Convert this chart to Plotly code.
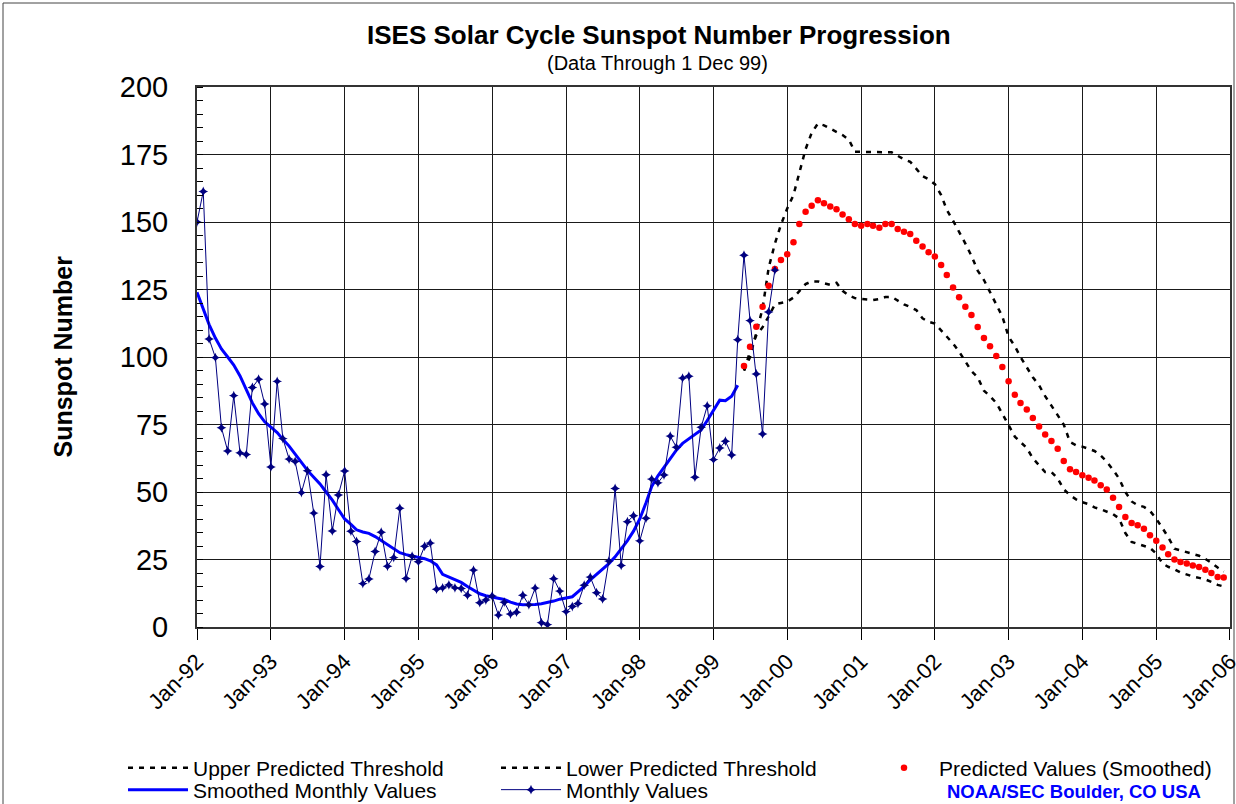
import pandas as pd
import plotly.graph_objects as go

# ---------------- data ----------------
months = pd.date_range("1992-01-01", "2005-12-01", freq="MS")

monthly_values = [
    150.0, 161.3, 106.7, 99.8, 73.8, 65.2, 85.7, 64.5, 63.9, 88.7, 91.8, 82.6,
    59.3, 91.0, 69.8, 62.2, 61.3, 49.8, 57.9, 42.2, 22.4, 56.4, 35.6, 48.9,
    57.8, 35.5, 31.7, 16.1, 17.8, 28.0, 35.1, 22.5, 25.7, 44.0, 18.0, 26.2,
    24.2, 29.9, 31.1, 14.0, 14.5, 15.6, 14.5, 14.3, 11.8, 21.1, 9.0, 10.0,
    11.5, 4.4, 9.2, 4.8, 5.5, 11.8, 8.2, 14.4, 1.6, 0.9, 17.9, 13.3,
    5.7, 7.6, 8.7, 15.5, 18.5, 12.7, 10.4, 24.4, 51.3, 22.8, 39.0, 41.2,
    31.9, 40.3, 54.8, 53.4, 56.3, 70.7, 66.6, 92.2, 92.9, 55.5, 74.0, 81.9,
    62.0, 66.3, 68.8, 63.7, 106.4, 137.7, 113.5, 93.7, 71.5, 116.7, 132.2,
]

smoothed_values = [
    124, 118, 112, 107, 103, 100, 97, 93, 88, 83, 79, 76,
    74, 72, 69.5, 67, 64, 61, 58, 55.5, 53, 50, 47, 43.5,
    40, 38, 36, 35.2, 34.7, 33.5, 32, 30.5, 29, 27.5, 26.8, 26.3,
    25.8, 25.3, 24.5, 23, 19.5, 18.5, 17.8, 16.5, 15, 13.8, 12.3, 11.6,
    11.2, 10.7, 10.2, 9.2, 8.5, 8.2, 8.2, 8.3, 8.6, 9.0, 9.6, 10.3,
    10.8, 11.2, 13, 15, 17.5, 19.5, 21.5, 23.5, 26, 29, 32, 35.5,
    40, 46, 52, 56, 59, 62.5, 65.5, 68, 69.8, 71.2, 73, 76.5,
    80.5, 84, 83.8, 85.5, 89.5,
]

pred_start = 89  # Jun-99

upper_threshold = [
    95, 100, 109, 118, 133, 142, 149, 155, 160, 168,
    177, 183, 186.5, 185.8, 184.6, 183.4, 182.2, 180.5, 176, 176,
    176, 176, 176, 176, 175.8, 174.5, 173.2, 172.3, 169.5, 167,
    165.8, 164, 160, 154.5, 150.5, 146.5, 142, 137.5, 132, 128.5,
    124, 119.5, 115, 107.5, 104, 100, 96, 92.5, 89.5, 85.5,
    82, 78.5, 75, 68.5, 67.3, 66.8, 66.1, 65.2, 63.5, 61.2,
    58.2, 55, 50, 46.5, 45.1, 44.5, 43, 40.1, 36.6, 33.3,
    29, 28.4, 27.8, 27.2, 26.4, 25.2, 23.8, 22, 20.5,
]

lower_threshold = [
    95, 102, 108, 111, 115, 119.5, 120, 120.5, 122, 124.5,
    127, 128, 128, 127.3, 126.7, 127.5, 124.5, 122.8, 121.8, 121.5,
    121.3, 121.1, 121.5, 122.2, 122.3, 121, 119.5, 118.5, 117.4, 114.3,
    113, 112.4, 109.8, 107.5, 105, 102, 98.5, 94.8, 92.5, 87.5,
    85.5, 83, 79, 75, 70.5, 68.5, 66.3, 62.5, 60, 57.4,
    57.4, 55, 51, 48.8, 47.3, 46.2, 45.5, 44.3, 43.6, 42.6,
    41.8, 40.2, 34.8, 31.5, 30.8, 30.2, 29.3, 27.2, 23.5, 22.3,
    21.4, 20.2, 19.3, 18.7, 18.2, 17.6, 16.7, 15.6, 15.0,
]

predicted_smoothed = [
    96.7, 103.8, 111.2, 118.6, 126.4, 132.6, 135.9, 138.1, 142.5, 149.3,
    153.8, 156.0, 158.1, 156.9, 155.7, 154.7, 152.8, 151.0, 149.3, 148.6,
    149.3, 148.6, 147.9, 149.3, 149.3, 147.4, 146.4, 145.6, 143.1, 140.9,
    138.8, 137.2, 134.1, 130.4, 125.7, 122.1, 118.6, 115.6, 111.1, 107.0,
    104.0, 100.4, 96.3, 91.0, 86.0, 83.0, 80.6, 77.4, 74.3, 71.3,
    68.9, 66.0, 61.5, 58.4, 57.4, 56.2, 55.3, 54.3, 52.5, 50.9,
    47.9, 44.4, 40.7, 38.5, 37.7, 36.4, 34.0, 31.9, 29.4, 26.9,
    25.0, 24.1, 23.5, 22.8, 22.2, 21.2, 20.0, 18.5, 18.3,
]

year_ticks = pd.date_range("1992-01-01", "2006-01-01", freq="YS")
tick_labels = [d.strftime("%b-%y") for d in year_ticks]
y_ticks = [0, 25, 50, 75, 100, 125, 150, 175, 200]

title_text = "ISES Solar Cycle Sunspot Number Progression"
subtitle_text = "(Data Through 1 Dec 99)"
credit_text = "NOAA/SEC Boulder, CO USA"

# ---------------- figure ----------------
FONT = "Liberation Sans, Arial, sans-serif"
W, H = 1236, 804
ML, MR, MT, MB = 197, 6, 87, 177
PW, PH = W - ML - MR, H - MT - MB


def px_x(px):
    return (px - ML) / PW


def px_y(py):
    return 1 - (py - MT) / PH


x_monthly = months[:len(monthly_values)]
x_smoothed = months[:len(smoothed_values)]
x_pred = months[pred_start:pred_start + len(predicted_smoothed)]

fig = go.Figure()

fig.add_trace(go.Scatter(
    x=x_pred, y=upper_threshold, mode="lines", name="Upper Predicted Threshold",
    line=dict(color="black", width=2.5, dash="5px,6px"), legend="legend"))
fig.add_trace(go.Scatter(
    x=x_pred, y=lower_threshold, mode="lines", name="Lower Predicted Threshold",
    line=dict(color="black", width=2.5, dash="5px,6px"), legend="legend"))
fig.add_trace(go.Scatter(
    x=x_pred, y=predicted_smoothed, mode="markers", name="Predicted Values (Smoothed)",
    marker=dict(color="#FF0000", size=6.5, line=dict(width=0)), legend="legend"))
fig.add_trace(go.Scatter(
    x=x_smoothed, y=smoothed_values, mode="lines", name="Smoothed Monthly Values",
    line=dict(color="#0000FF", width=3), legend="legend2"))
fig.add_trace(go.Scatter(
    x=x_monthly, y=monthly_values, mode="lines+markers", name="Monthly Values",
    line=dict(color="#000080", width=1),
    marker=dict(symbol="star-diamond", size=7, color="#000080", line=dict(width=0)),
    legend="legend2"))

legend_common = dict(
    orientation="h", xanchor="left", yanchor="middle",
    font=dict(family=FONT, size=21, color="black"),
    itemwidth=60, entrywidth=298, entrywidthmode="pixels",
    bgcolor="rgba(0,0,0,0)", borderwidth=0, traceorder="normal",
)

fig.update_layout(
    width=W, height=H,
    margin=dict(l=ML, r=MR, t=MT, b=MB, autoexpand=False),
    paper_bgcolor="white", plot_bgcolor="white",
    font=dict(family=FONT, color="black"),
    showlegend=True,
    legend=dict(x=px_x(123), y=px_y(768), **legend_common),
    legend2=dict(x=px_x(123), y=px_y(790), **legend_common),
    xaxis=dict(
        type="date", range=["1992-01-01", "2006-01-01 02:00"],
        tickvals=list(year_ticks), ticktext=tick_labels, tickangle=-45,
        tickfont=dict(family=FONT, size=22, color="black"),
        ticklabeloverflow="allow",
        ticks="outside", ticklen=11, tickwidth=1, tickcolor="black",
        showgrid=True, gridcolor="#1a1a1a", gridwidth=1.2,
        showline=True, linecolor="#333333", linewidth=2, mirror=True,
        zeroline=False,
    ),
    yaxis=dict(
        range=[0, 200], tickvals=y_ticks,
        tickfont=dict(family=FONT, size=29, color="black"),
        ticks="", ticklabelstandoff=21,
        minor=dict(dtick=5, ticks="inside", ticklen=6, tickwidth=1,
                   tickcolor="black", showgrid=False),
        showgrid=True, gridcolor="#1a1a1a", gridwidth=1.2,
        showline=True, linecolor="#333333", linewidth=2, mirror=True,
        zeroline=False,
    ),
    annotations=[
        dict(text="<b>" + title_text + "</b>", xref="paper", yref="paper",
             x=px_x(658.5), y=px_y(35), xanchor="center", yanchor="middle",
             showarrow=False, font=dict(family=FONT, size=26, color="black")),
        dict(text=subtitle_text, xref="paper", yref="paper",
             x=px_x(657.5), y=px_y(63), xanchor="center", yanchor="middle",
             showarrow=False, font=dict(family=FONT, size=20, color="black")),
        dict(text="<b>Sunspot Number</b>", xref="paper", yref="paper",
             x=px_x(62.5), y=px_y(357), xanchor="center", yanchor="middle",
             textangle=-90, showarrow=False,
             font=dict(family=FONT, size=25, color="black")),
        dict(text="<b>" + credit_text + "</b>", xref="paper", yref="paper",
             x=px_x(945), y=px_y(791), xanchor="left", yanchor="middle",
             showarrow=False, font=dict(family=FONT, size=18.5, color="#0000FF")),
    ],
    shapes=[
        dict(type="rect", xref="paper", yref="paper",
             x0=px_x(3), x1=px_x(1234), y0=px_y(812), y1=px_y(3),
             line=dict(color="#444444", width=1), fillcolor="rgba(0,0,0,0)",
             layer="below"),
    ],
)

fig.write_html(
    "out.html",
    config={"displayModeBar": False},
    post_script="document.body.style.margin='0';document.body.style.overflow='hidden';",
)
